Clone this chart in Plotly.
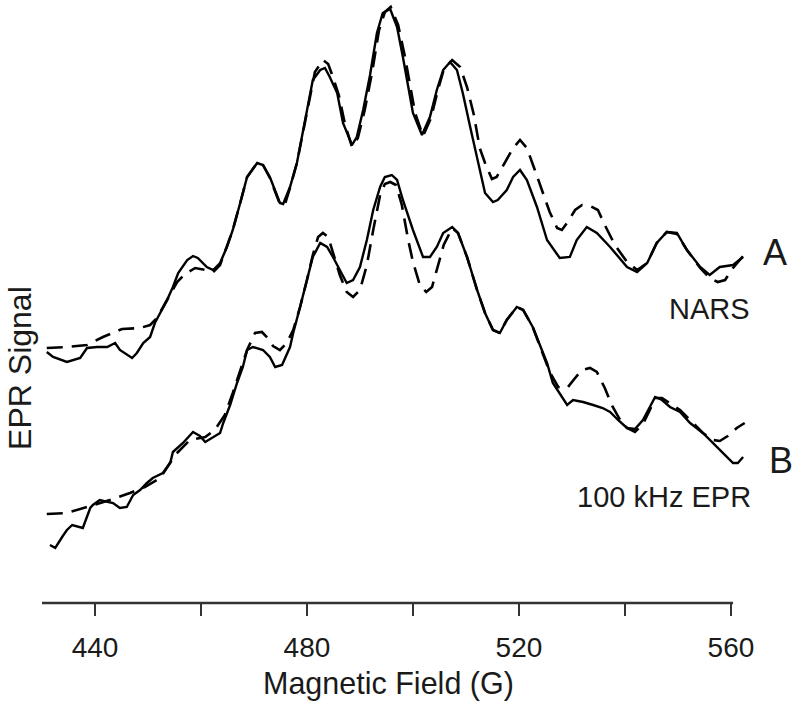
import plotly.graph_objects as go

# ---- Data (Magnetic field in G, EPR signal in arbitrary units) ----
a_solid_field = [430.9, 432.1, 434.7, 435.8, 437.2, 438.5, 440.4, 442.3, 443.8, 444.7,
                 447.0, 447.9, 449.1, 450.4, 451.3, 452.3, 453.6, 454.7, 455.7, 457.4,
                 458.5, 459.4, 461.1, 462.3, 463.6, 464.9, 466.0, 467.4, 468.7, 470.6,
                 471.7, 473.0, 474.9, 475.5, 476.8, 478.1, 479.2, 480.6, 481.1, 482.5,
                 483.4, 484.3, 485.7, 486.8, 488.5, 489.4, 490.6, 491.9, 493.2, 494.3,
                 495.7, 497.0, 498.1, 500.0, 501.7, 503.2, 504.5, 505.7, 507.0, 508.3,
                 509.4, 510.8, 512.1, 513.6, 515.1, 516.0, 517.7, 518.9, 520.2, 521.5,
                 523.4, 525.3, 527.7, 529.6, 530.9, 532.8, 534.7, 537.2, 540.4, 542.3,
                 544.2, 546.0, 547.9, 549.8, 551.7, 554.2, 556.0, 557.9, 560.4, 562.3]
a_solid_signal = [251, 246, 241, 243, 245, 255, 256, 256, 260, 253,
                  245, 250, 260, 266, 280, 290, 303, 316, 330, 343,
                  347, 345, 336, 333, 340, 356, 373, 400, 426, 440,
                  438, 426, 400, 399, 416, 440, 470, 506, 523, 533,
                  535, 526, 510, 480, 458, 466, 493, 528, 570, 590,
                  594, 576, 546, 490, 468, 486, 513, 533, 541, 533,
                  510, 476, 446, 410, 401, 403, 413, 426, 433, 423,
                  396, 363, 345, 346, 363, 376, 370, 356, 336, 331,
                  340, 360, 371, 370, 353, 336, 328, 336, 338, 346]

a_dash_field = [430.9, 434.7, 438.5, 441.5, 445.1, 448.5, 450.4, 451.7, 453.6, 455.5,
                457.0, 458.9, 460.8, 462.3, 463.6, 464.9, 466.0, 467.4, 468.7, 470.6,
                471.7, 473.0, 474.9, 475.8, 476.8, 478.1, 479.2, 480.6, 481.5, 483.0,
                484.0, 484.9, 486.0, 487.2, 488.5, 489.6, 490.9, 492.3, 493.6, 494.7,
                495.8, 497.2, 498.5, 500.4, 501.9, 503.4, 504.7, 505.8, 507.4, 508.9,
                510.2, 511.5, 512.6, 513.6, 514.9, 515.8, 517.7, 518.9, 520.2, 521.5,
                523.0, 524.3, 525.8, 527.2, 528.1, 529.2, 530.6, 531.9, 533.4, 534.9,
                536.2, 538.1, 540.4, 542.3, 544.2, 546.0, 547.9, 549.8, 551.7, 554.2,
                556.0, 557.5, 558.9, 560.4, 562.3]
a_dash_signal = [255, 256, 258, 266, 274, 275, 278, 285, 303, 321,
                 329, 335, 333, 331, 338, 356, 373, 400, 426, 440,
                 438, 425, 399, 398, 415, 440, 470, 508, 531, 543,
                 539, 526, 508, 478, 456, 465, 493, 531, 573, 591,
                 596, 578, 546, 490, 467, 485, 513, 533, 543, 536,
                 516, 488, 455, 440, 424, 426, 443, 455, 463, 455,
                 433, 413, 391, 375, 373, 381, 393, 398, 397, 393,
                 378, 358, 341, 333, 340, 360, 371, 369, 353, 335,
                 325, 321, 323, 335, 347]

b_solid_field = [431.5, 432.5, 433.8, 434.7, 435.7, 437.2, 437.7, 439.1, 439.6, 440.9,
                 442.3, 443.4, 444.7, 446.0, 447.2, 448.5, 449.8, 450.9, 452.8, 454.2,
                 454.7, 456.6, 458.5, 459.8, 460.8, 462.1, 463.6, 464.2, 465.5, 466.8,
                 467.9, 468.7, 469.8, 471.7, 473.0, 474.0, 475.3, 476.8, 477.4, 478.7,
                 480.0, 481.1, 482.5, 483.8, 484.9, 486.2, 487.5, 488.7, 490.0, 491.3,
                 492.5, 493.8, 494.7, 496.0, 497.0, 498.1, 500.0, 501.9, 503.2, 504.5,
                 505.7, 507.4, 508.5, 510.2, 512.1, 513.6, 515.1, 516.4, 517.7, 519.6,
                 520.8, 522.6, 524.5, 525.3, 526.4, 527.7, 529.1, 530.2, 532.1, 534.0,
                 535.8, 537.2, 538.7, 540.4, 541.9, 543.4, 544.7, 545.7, 547.0, 548.5,
                 550.4, 552.3, 554.7, 556.6, 558.5, 560.4, 561.3, 562.3]
b_solid_signal = [58, 55, 66, 73, 78, 76, 75, 95, 98, 103,
                  101, 100, 95, 96, 108, 113, 120, 125, 130, 140,
                  151, 160, 171, 167, 161, 165, 170, 180, 198, 220,
                  236, 253, 256, 253, 246, 236, 238, 256, 270, 296,
                  323, 346, 360, 356, 346, 333, 320, 323, 336, 363,
                  393, 416, 426, 428, 423, 403, 373, 346, 346, 356,
                  370, 376, 370, 346, 313, 290, 273, 270, 283, 296,
                  293, 276, 250, 240, 220, 210, 198, 203, 201, 198,
                  195, 191, 183, 175, 174, 183, 196, 206, 203, 196,
                  191, 180, 170, 160, 150, 140, 140, 146]

b_dash_field = [430.9, 434.7, 439.1, 442.8, 446.6, 449.4, 452.3, 455.1, 457.9, 460.8,
                462.6, 464.5, 466.0, 467.4, 468.7, 470.2, 471.5, 472.6, 473.6, 474.9,
                476.2, 477.4, 478.7, 480.0, 481.1, 482.1, 483.0, 484.0, 484.9, 486.2,
                487.5, 488.7, 490.0, 491.3, 492.5, 493.8, 494.7, 495.7, 496.8, 497.9,
                499.1, 500.0, 501.3, 502.5, 503.6, 504.7, 505.8, 507.4, 508.5, 510.2,
                512.1, 513.6, 515.1, 516.4, 517.7, 519.6, 520.8, 522.6, 524.5, 525.8,
                527.4, 529.1, 530.6, 531.9, 533.4, 534.7, 536.2, 537.5, 539.1, 540.4,
                541.9, 543.4, 544.7, 545.7, 547.0, 548.5, 550.4, 552.3, 554.7, 556.6,
                557.9, 559.4, 561.1, 562.6]
b_dash_signal = [89, 90, 97, 103, 110, 116, 125, 148, 163, 166,
                 173, 188, 210, 233, 253, 270, 271, 265, 257, 253,
                 260, 273, 296, 323, 348, 366, 370, 366, 351, 328,
                 311, 306, 313, 338, 373, 408, 419, 421, 418, 398,
                 363, 341, 318, 311, 316, 336, 358, 375, 370, 346,
                 313, 290, 273, 270, 283, 296, 293, 276, 250, 231,
                 216, 215, 225, 233, 235, 231, 215, 198, 183, 175,
                 171, 179, 193, 205, 205, 200, 193, 183, 170, 163,
                 162, 167, 175, 180]

tick_values = [440, 460, 480, 500, 520, 540, 560]
tick_labels = ["440", "", "480", "", "520", "", "560"]
axis_start, axis_end = 430, 560.4

for xs, ys in [(a_solid_field, a_solid_signal), (a_dash_field, a_dash_signal),
               (b_solid_field, b_solid_signal), (b_dash_field, b_dash_signal)]:
    assert len(xs) == len(ys), (len(xs), len(ys))

FONT = "Liberation Sans, Arial, sans-serif"
INK = "#1a1a1a"

fig = go.Figure()
solid = dict(color="black", width=2.4)
dashed = dict(color="black", width=2.6, dash="16px,9px")
fig.add_trace(go.Scatter(x=a_solid_field, y=a_solid_signal, mode="lines", line=solid, name="A"))
fig.add_trace(go.Scatter(x=a_dash_field, y=a_dash_signal, mode="lines", line=dashed, name="A fit"))
fig.add_trace(go.Scatter(x=b_solid_field, y=b_solid_signal, mode="lines", line=solid, name="B"))
fig.add_trace(go.Scatter(x=b_dash_field, y=b_dash_signal, mode="lines", line=dashed, name="B fit"))

fig.update_layout(
    width=800, height=707,
    margin=dict(l=42, r=50, t=0, b=104),
    paper_bgcolor="white", plot_bgcolor="white",
    showlegend=False,
    font=dict(family=FONT, color=INK),
    xaxis=dict(range=[430, 563.6], tickvals=tick_values, ticktext=tick_labels,
               ticks="outside", ticklen=12, tickwidth=2, tickcolor="#333",
               showline=False, showgrid=False, zeroline=False,
               tickfont=dict(size=28, family=FONT, color=INK),
               ticklabelstandoff=7),
    yaxis=dict(range=[0, 603], visible=False, showgrid=False, zeroline=False),
    shapes=[dict(type="line", xref="x", yref="paper", x0=axis_start, x1=axis_end,
                 y0=0, y1=0, line=dict(color="#333", width=2.5))],
    annotations=[
        dict(text="Magnetic Field (G)", xref="x", yref="paper", x=495.3, y=-0.133,
             showarrow=False, xanchor="center", yanchor="middle",
             font=dict(size=30.5, family=FONT, color=INK)),
        dict(text="EPR Signal", xref="paper", yref="paper", x=-0.031, y=0.39,
             showarrow=False, xanchor="center", yanchor="middle", textangle=-90,
             font=dict(size=32, family=FONT, color=INK)),
        dict(text="A", xref="paper", yref="paper", x=1.035, y=0.582, showarrow=False,
             xanchor="center", yanchor="middle", font=dict(size=36, family=FONT, color=INK)),
        dict(text="NARS", xref="x", yref="y", x=556.0, y=294, showarrow=False,
             xanchor="center", yanchor="middle", font=dict(size=29, family=FONT, color=INK)),
        dict(text="B", xref="paper", yref="paper", x=1.044, y=0.237, showarrow=False,
             xanchor="center", yanchor="middle", font=dict(size=36, family=FONT, color=INK)),
        dict(text="100 kHz EPR", xref="x", yref="y", x=547.4, y=106, showarrow=False,
             xanchor="center", yanchor="middle", font=dict(size=29, family=FONT, color=INK)),
    ],
)

fig.write_html("out.html", config={"displayModeBar": False},
               post_script="document.body.style.margin='0px';document.body.style.overflow='hidden';")
